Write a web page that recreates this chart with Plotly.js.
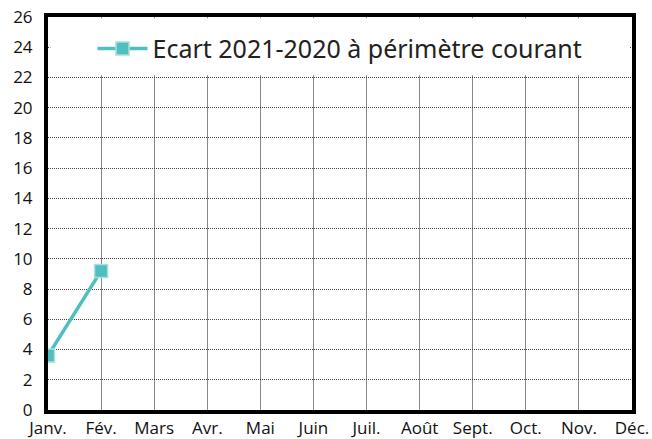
<!DOCTYPE html>
<html>
<head>
<meta charset="utf-8">
<script src="https://cdn.plot.ly/plotly-3.0.1.min.js"></script>
<style>html,body{margin:0;padding:0;background:#fff;}#chart{width:652px;height:439px;}</style>
</head>
<body>
<div id="chart"></div>
<script>
const months = ["Janv.", "Fév.", "Mars", "Avr.", "Mai", "Juin", "Juil.", "Août", "Sept.", "Oct.", "Nov.", "Déc."];
const ecartMonths = ["Janv.", "Fév."];
const ecartValues = [3.6, 9.2];
const seriesName = "Ecart 2021-2020 à périmètre courant";
const yTicks = [0, 2, 4, 6, 8, 10, 12, 14, 16, 18, 20, 22, 24, 26];

const trace = {
  x: ecartMonths,
  y: ecartValues,
  name: seriesName,
  type: "scatter",
  mode: "lines+markers",
  line: {color: "#4fbfbf", width: 3.5},
  marker: {symbol: "square", size: 13, color: "#4fbfbf", line: {color: "#a8dfe0", width: 1.5}},
  showlegend: true
};

// invisible helper trace so the tick-mark overlay axis is drawn
const tickHelper = {
  x: ecartMonths, y: ecartValues, yaxis: "y2", type: "scatter", mode: "none",
  showlegend: false, hoverinfo: "skip"
};

const layout = {
  width: 652, height: 439,
  margin: {l: 48, r: 20, t: 17, b: 29},
  paper_bgcolor: "#fff", plot_bgcolor: "#fff",
  font: {family: "'Open Sans', sans-serif", size: 15, color: "#111"},
  xaxis: {
    type: "category",
    categoryorder: "array",
    categoryarray: months,
    tickvals: months,
    range: [0, 11],
    showgrid: true, gridcolor: "#888", gridwidth: 1,
    showline: true, linecolor: "#000", linewidth: 4, mirror: true,
    ticks: "",
    tickfont: {family: "'Open Sans', sans-serif", size: 17, color: "#111"},
    zeroline: false, fixedrange: true
  },
  yaxis: {
    range: [0, 26],
    tickvals: yTicks,
    showgrid: true, gridcolor: "#444", gridwidth: 1, griddash: "1px,1px",
    showline: true, linecolor: "#000", linewidth: 4, mirror: true,
    ticks: "outside", ticklen: 8, tickcolor: "rgba(0,0,0,0)",
    tickfont: {family: "'Open Sans', sans-serif", size: 17, color: "#111"},
    zeroline: false, fixedrange: true
  },
  yaxis2: {
    overlaying: "y", side: "left", range: [0, 26], tickvals: yTicks,
    showticklabels: false, showgrid: false, showline: false, zeroline: false,
    ticks: "outside", ticklen: 3, tickcolor: "#000", fixedrange: true
  },
  shapes: [{
    type: "rect", xref: "paper", yref: "y", x0: 0.004, x1: 0.996, y0: 22.15, y1: 25.92,
    fillcolor: "#fff", line: {width: 0}, layer: "above"
  }],
  legend: {
    orientation: "h", x: 0.5, xanchor: "center", y: 0.978, yanchor: "top",
    bgcolor: "rgba(0,0,0,0)", font: {family: "'Noto Sans', 'Open Sans', sans-serif", size: 25, color: "#222"},
    itemwidth: 50
  }
};

Plotly.newPlot("chart", [trace, tickHelper], layout, {displayModeBar: false, staticPlot: true});
</script>
</body>
</html>
